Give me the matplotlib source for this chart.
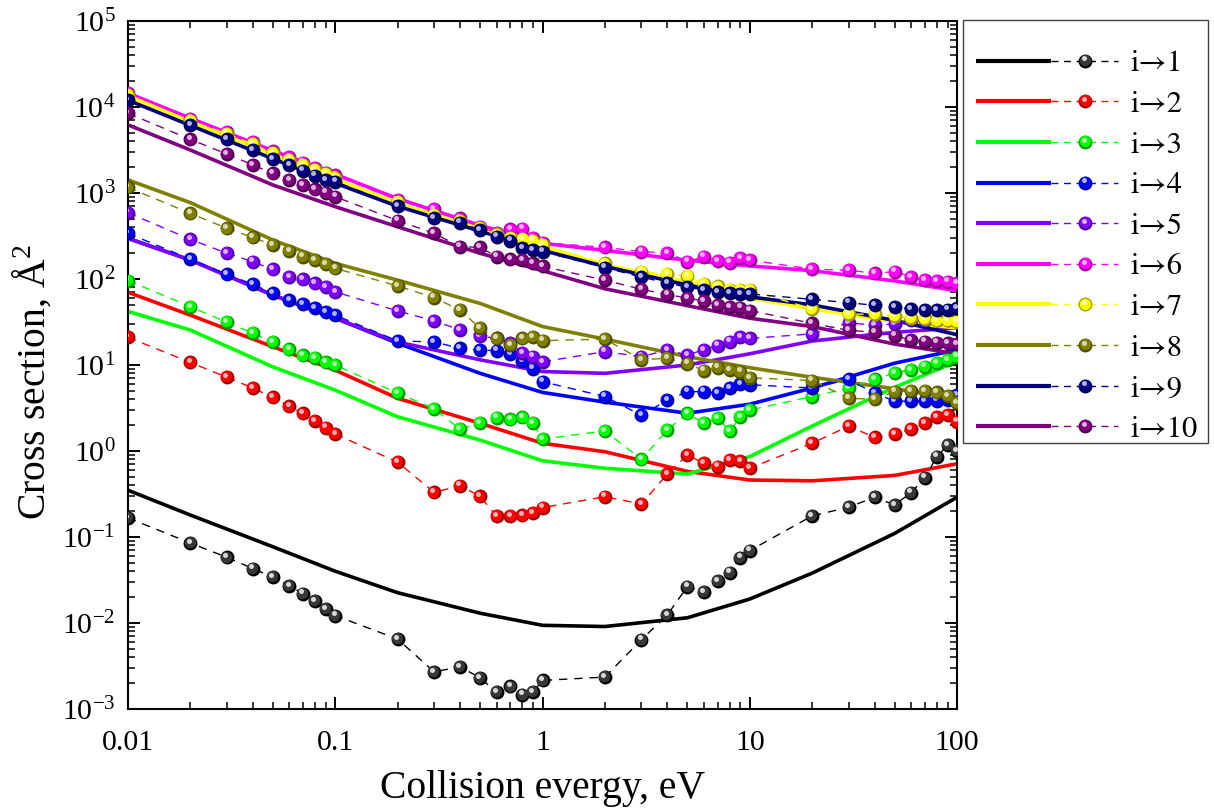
import numpy as np
import matplotlib
matplotlib.use("Agg")
import matplotlib.pyplot as plt
from matplotlib.lines import Line2D
from matplotlib.legend_handler import HandlerBase
from matplotlib.patches import Rectangle
from matplotlib.ticker import LogLocator, NullFormatter, FixedLocator, FixedFormatter
from matplotlib import transforms
from matplotlib.colors import to_rgb

plt.rcParams['font.family'] = ['Liberation Serif', 'DejaVu Serif']
plt.rcParams['mathtext.fontset'] = 'custom'
plt.rcParams['mathtext.rm'] = 'Liberation Serif'
plt.rcParams['mathtext.it'] = 'Liberation Serif:italic'
plt.rcParams['mathtext.bf'] = 'Liberation Serif:bold'

# collision energies (eV) of the computed points
energy = [0.01, 0.02, 0.03, 0.04, 0.05, 0.06, 0.07, 0.08, 0.09,
          0.1, 0.2, 0.3, 0.4, 0.5, 0.6, 0.7, 0.8, 0.9,
          1, 2, 3, 4, 5, 6, 7, 8, 9,
          10, 20, 30, 40, 50, 60, 70, 80, 90, 100]

# energies of the model curves
energy_model = [0.01, 0.02, 0.05, 0.1, 0.2, 0.5, 1, 2, 5, 10, 20, 50, 100]

labels = ['i→1', 'i→2', 'i→3', 'i→4', 'i→5', 'i→6', 'i→7', 'i→8', 'i→9', 'i→10']
colors = ['#000000', '#ff0000', '#00ff00', '#0000ff', '#8000ff',
          '#ff00ff', '#ffff00', '#808000', '#000080', '#800080']

# computed cross sections, A^2
sigma_1 = [0.167, 0.085, 0.058, 0.043, 0.034, 0.027, 0.022, 0.018, 0.0146,
           0.0122, 0.0065, 0.0027, 0.0031, 0.0023, 0.00157, 0.00183, 0.00147, 0.00157,
           0.00215, 0.00235, 0.0064, 0.0124, 0.0265, 0.0229, 0.0309, 0.0386, 0.0577,
           0.0695, 0.176, 0.222, 0.29, 0.236, 0.328, 0.49, 0.86, 1.17, 1.0]
sigma_2 = [21, 10.7, 7.2, 5.4, 4.2, 3.3, 2.74, 2.23, 1.87,
           1.58, 0.74, 0.33, 0.395, 0.297, 0.175, 0.175, 0.178, 0.189,
           0.22, 0.294, 0.242, 0.54, 0.9, 0.72, 0.66, 0.78, 0.77,
           0.63, 1.23, 1.95, 1.44, 1.58, 1.79, 2.1, 2.5, 2.6, 2.2]
sigma_3 = [96, 47.6, 31.4, 23.4, 18.4, 15.2, 12.9, 12.0, 10.7,
           10.0, 4.7, 3.1, 1.8, 2.1, 2.44, 2.33, 2.46, 2.1,
           1.38, 1.71, 0.8, 1.75, 2.74, 2.1, 2.4, 1.71, 2.47,
           3.0, 4.3, 5.4, 6.8, 8.1, 8.8, 9.6, 10.5, 11.4, 12.5]
sigma_4 = [340, 170, 113, 87, 68, 57, 51, 46, 41,
           38, 19, 18.6, 15.6, 14.9, 14.7, 13.4, 11.2, 9.1,
           6.4, 4.3, 2.6, 3.9, 4.9, 4.9, 4.7, 5.4, 6.0,
           5.9, 5.4, 6.8, 4.7, 3.8, 3.8, 3.8, 3.85, 3.9, 4.5]
sigma_5 = [590, 289, 199, 159, 129, 105, 99, 89, 81,
           71, 42.5, 32.7, 25.5, 21.7, 20.4, 17.9, 13.7, 12.5,
           10.9, 14.3, 12.5, 14.9, 13.1, 15.0, 16.8, 18.7, 21.3,
           20.4, 23, 31, 29, 30, 33, 33, 33, 33, 33]
sigma_6 = [14500, 7330, 5100, 3900, 3050, 2620, 2250, 1960, 1720,
           1600, 830, 646, 507, 400, 340, 378, 385, 300,
           265, 233, 208, 202, 159, 182, 163, 155, 174,
           166, 130, 127, 116, 122, 106, 97, 95, 93, 89]
sigma_7 = [13800, 6900, 4900, 3700, 2900, 2450, 2100, 1850, 1650,
           1500, 780, 560, 470, 390, 330, 300, 290, 279,
           248, 152, 122, 114, 108, 87, 82, 75, 74,
           74, 45, 39, 39, 37, 35, 34, 33, 33, 32]
sigma_8 = [1160, 580, 388, 305, 248, 213, 182, 166, 149,
           133, 83, 60.7, 43.6, 26.7, 20.4, 17.1, 20.4, 21,
           19.2, 20, 11.5, 12, 10.4, 8.6, 9.3, 8.8, 8.4,
           7.1, 6.6, 4.1, 4.0, 4.9, 5.0, 5.0, 4.8, 4.35, 3.6]
sigma_9 = [12000, 6180, 4200, 3160, 2470, 2120, 1820, 1590, 1420,
           1360, 707, 507, 452, 371, 311, 279, 227, 217,
           208, 136, 105, 90, 80, 75, 71, 69, 67,
           67, 58, 53, 49.5, 47, 45, 43.5, 43.5, 44, 45.6]
sigma_10 = [8450, 4200, 2840, 2120, 1690, 1420, 1240, 1100, 1010,
            906, 477, 340, 238, 233, 182, 169, 166, 152,
            140, 97, 76, 66, 60, 55.5, 50, 47.5, 46.5,
            43, 30.5, 25.3, 24, 22, 19.5, 18.7, 18.2, 17.8, 17.6]

# model cross sections on energy_model
model_1 = [0.35, 0.18, 0.077, 0.04, 0.0225, 0.013, 0.0094, 0.0091, 0.0115, 0.019, 0.038, 0.11, 0.29]
model_2 = [70, 38, 16.3, 8.7, 4.1, 2.1, 1.23, 0.98, 0.58, 0.46, 0.45, 0.52, 0.71]
model_3 = [42, 25.5, 9.5, 5.1, 2.5, 1.34, 0.77, 0.63, 0.54, 0.86, 1.95, 5.5, 11]
model_4 = [297, 166, 65, 35, 17.9, 8.0, 4.8, 3.7, 2.75, 3.5, 5.4, 10.5, 15]
model_5 = [297, 166, 65, 35, 18.5, 11.5, 8.4, 8.0, 10, 13.5, 19, 24, 27]
model_6 = [14500, 7400, 3100, 1650, 860, 420, 260, 215, 165, 142, 125, 95, 73]
model_7 = [13500, 6700, 2800, 1450, 760, 380, 240, 146, 92, 60, 45, 32, 27]
model_8 = [1420, 772, 284, 152, 97, 52, 28, 20, 12.5, 9.3, 7.2, 5.3, 4.1]
model_9 = [12000, 6100, 2500, 1300, 700, 360, 215, 140, 85, 62, 50, 33, 22.5]
model_10 = [6200, 3160, 1240, 693, 405, 199, 125, 77, 49, 35, 28, 17.5, 13.5]

sigma = [sigma_1, sigma_2, sigma_3, sigma_4, sigma_5,
         sigma_6, sigma_7, sigma_8, sigma_9, sigma_10]
model = [model_1, model_2, model_3, model_4, model_5,
         model_6, model_7, model_8, model_9, model_10]


def ball_colors(color):
    c = np.array(to_rgb(color))
    if c.sum() == 0:
        return (0, 0, 0), (0.22, 0.22, 0.22), (0.85, 0.85, 0.85)
    dark = tuple(c * 0.62)
    hi = tuple(0.3 * c + 0.7)
    return dark, tuple(c), hi


# sphere-like marker: dark base, body offset up-left, small highlight
BALL_LAYERS = [(0.0, 0.0, 10.0, 0), (-0.6, 0.6, 8.2, 1), (-1.2, 1.6, 3.6, 2)]


def draw_balls(ax, x, y, color, z):
    cols = ball_colors(color)
    fig = ax.figure
    for dx, dy, ms, k in BALL_LAYERS:
        tr = transforms.offset_copy(ax.transData, fig=fig, x=dx, y=dy, units='points')
        ax.plot(x, y, linestyle='none', marker='o', ms=ms, mew=0,
                color=cols[k], transform=tr, zorder=z + 0.01 * k)


class SolidDashBall(HandlerBase):
    def create_artists(self, legend, orig_handle, xdescent, ydescent,
                       width, height, fontsize, trans):
        color = orig_handle.get_color()
        y = height / 2.0 - ydescent
        x0 = -xdescent
        xs = x0 + 0.53 * width
        arts = [Line2D([x0, xs], [y, y], color=color, lw=3.0, solid_capstyle='butt'),
                Line2D([xs, x0 + width], [y, y], color=color, lw=1.0,
                       linestyle=(0, (5, 4)))]
        xm = x0 + 0.77 * width
        cols = ball_colors(color)
        for dx, dy, ms, k in BALL_LAYERS:
            arts.append(Line2D([xm + dx], [y + dy], linestyle='none', marker='o',
                               ms=ms, mew=0, color=cols[k]))
        for a in arts:
            a.set_transform(trans)
        return arts


W, H = 1214, 809
fig = plt.figure(figsize=(W / 100, H / 100), dpi=100)
ax = fig.add_axes([128 / W, 1 - 709 / H, (957 - 128) / W, (709 - 21) / H])

for i in range(10):
    ax.plot(energy_model, model[i], '-', color=colors[i], lw=2.6, zorder=2)
for i in range(10):
    ax.plot(energy, sigma[i], color=colors[i], lw=1.0,
            linestyle=(0, (6, 5)), zorder=3 + i * 0.1)
    draw_balls(ax, energy, sigma[i], colors[i], 3.02 + i * 0.1)

ax.set_xscale('log')
ax.set_yscale('log')
ax.set_xlim(0.01, 100)
ax.set_ylim(1e-3, 1e5)

ax.xaxis.set_major_locator(FixedLocator([0.01, 0.1, 1, 10, 100]))
ax.xaxis.set_major_formatter(FixedFormatter(['0.01', '0.1', '1', '10', '100']))
ax.xaxis.set_minor_locator(LogLocator(base=10, subs=np.arange(2, 10), numticks=100))
ax.xaxis.set_minor_formatter(NullFormatter())
ax.yaxis.set_major_locator(LogLocator(base=10, numticks=100))
ax.yaxis.set_minor_locator(LogLocator(base=10, subs=np.arange(2, 10), numticks=100))
ax.yaxis.set_minor_formatter(NullFormatter())

ax.tick_params(which='both', direction='in', top=True, right=True, labelsize=21.5)
ax.tick_params(which='major', length=8.5, width=1.4, pad=9)
ax.tick_params(axis='x', which='major', pad=15)
ax.tick_params(which='minor', length=5, width=1.1)
for s in ax.spines.values():
    s.set_linewidth(1.5)

ax.set_xlabel('Collision evergy, eV', fontsize=28.5, labelpad=10)
ax.set_ylabel('Cross section, Å$^2$', fontsize=28.5)
ax.yaxis.set_label_coords(-0.09, 0.475)

# legend with its own frame
handles = [Line2D([], [], color=c) for c in colors]
leg = fig.legend(handles, labels, handler_map={Line2D: SolidDashBall()},
                 loc='upper left', bbox_to_anchor=(976 / W, 1 - 50 / H),
                 bbox_transform=fig.transFigure, frameon=False,
                 prop={'family': 'STIXGeneral', 'size': 22},
                 handlelength=4.65, handletextpad=0.42,
                 labelspacing=0.40, borderpad=0, borderaxespad=0)
fig.patches.append(Rectangle((963 / W, 1 - 443 / H), (1208 - 963) / W, (443 - 20) / H,
                             transform=fig.transFigure, fill=False,
                             edgecolor='#404040', lw=1.0))

fig.savefig('out.png', dpi=100)
